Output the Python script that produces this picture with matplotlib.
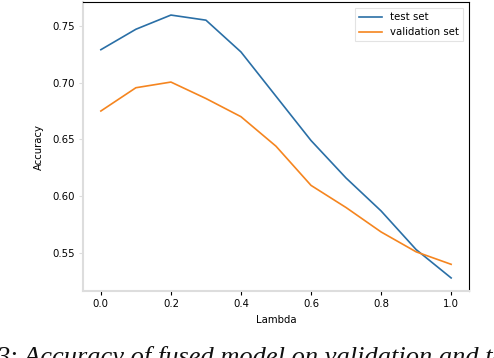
import matplotlib
matplotlib.use("Agg")
import matplotlib.pyplot as plt

lambdas = [0.0, 0.1, 0.2, 0.3, 0.4, 0.5, 0.6, 0.7, 0.8, 0.9, 1.0]
test_acc = [0.729, 0.747, 0.7595, 0.755, 0.727, 0.688, 0.649, 0.616, 0.587, 0.553, 0.528]
val_acc = [0.675, 0.6955, 0.7005, 0.686, 0.670, 0.644, 0.6095, 0.590, 0.5685, 0.551, 0.540]
x_ticks = [0.0, 0.2, 0.4, 0.6, 0.8, 1.0]
y_ticks = [0.55, 0.60, 0.65, 0.70, 0.75]
caption = "3: Accuracy of fused model on validation and test sets"

fig = plt.figure(figsize=(4.94, 3.58), dpi=100)
ax = fig.add_axes([83/494, 1-291/358, (469-83)/494, (291-2)/358])

ax.plot(lambdas, test_acc, color="#2a6fa6", lw=1.2, label="test set")
ax.plot(lambdas, val_acc, color="#f5851f", lw=1.2, label="validation set")

ax.set_xlim(-0.051, 1.051)
ax.set_ylim(0.5165, 0.771)
ax.set_xticks(x_ticks)
ax.set_yticks(y_ticks)
ax.set_xticklabels([f"{v:.1f}" for v in x_ticks])
ax.set_yticklabels([f"{v:.2f}" for v in y_ticks])
ax.tick_params(axis="both", labelsize=7.3, length=3, width=0.8, pad=3)
ax.tick_params(axis="y", color="#dddddd")
ax.spines["left"].set_color("#dddddd")
ax.spines["bottom"].set_color("#dddddd")
ax.spines["left"].set_linewidth(1.5)
ax.spines["bottom"].set_linewidth(1.5)
ax.spines["top"].set_color("black")
ax.spines["right"].set_color("black")

ax.set_xlabel("Lambda", fontsize=7.3, labelpad=4)
ax.set_ylabel("Accuracy", fontsize=7.3, labelpad=6)

leg = ax.legend(loc="upper right", fontsize=7.3, frameon=True, fancybox=False,
                borderaxespad=0.6, handlelength=2.2)
leg.get_frame().set_edgecolor("#dddddd")
leg.get_frame().set_linewidth(0.8)

fig.text(-4/494, 1-364/358, caption, fontsize=19, style="italic",
         family="Liberation Serif", ha="left", va="baseline", color="#111111")

fig.savefig("out.png", dpi=100)
